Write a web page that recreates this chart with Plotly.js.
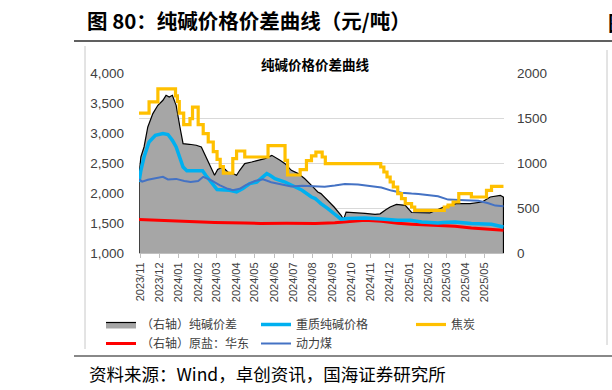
<!DOCTYPE html>
<html>
<head>
<meta charset="utf-8">
<script src="https://cdn.plot.ly/plotly-3.0.1.min.js"></script>
<style>html,body{margin:0;padding:0;background:#fff;}#chart{width:612px;height:390px;}</style>
</head>
<body>
<div id="chart"></div>
<script>
// 纯碱价差 (右轴)
const spreadDates = ['2023-10-30','2023-11-02','2023-11-07','2023-11-13','2023-11-21','2023-11-29','2023-12-07','2023-12-12','2023-12-17','2023-12-22','2023-12-28','2024-01-03','2024-01-08','2024-01-18','2024-01-29','2024-02-06','2024-02-14','2024-02-22','2024-02-27','2024-03-03','2024-03-11','2024-03-19','2024-03-27','2024-04-02','2024-04-07','2024-04-15','2024-04-26','2024-05-07','2024-05-17','2024-05-28','2024-06-02','2024-06-10','2024-06-18','2024-06-28','2024-07-09','2024-07-19','2024-07-30','2024-08-09','2024-08-14','2024-08-25','2024-09-04','2024-09-15','2024-09-19','2024-09-23','2024-10-07','2024-10-23','2024-11-08','2024-11-16','2024-11-25','2024-12-02','2024-12-12','2024-12-26','2025-01-05','2025-02-03','2025-02-24','2025-03-17','2025-04-08','2025-04-27','2025-05-10','2025-05-26','2025-05-31'];
const spreadValues = [863,1067,1178,1400,1549,1641,1697,1752,1733,1752,1641,1400,1215,1208,1197,1178,1067,938,863,927,955,900,882,863,919,993,1011,1030,1049,1085,1067,1030,993,919,882,827,752,678,660,585,511,419,371,455,450,440,430,435,480,511,540,530,450,445,507,549,549,567,622,641,620];

// 重质纯碱价格 (左轴)
const sodaDates = ['2023-10-30','2023-11-02','2023-11-07','2023-11-15','2023-11-25','2023-12-07','2023-12-15','2023-12-22','2023-12-28','2024-01-03','2024-01-08','2024-01-14','2024-02-08','2024-02-13','2024-02-20','2024-02-25','2024-03-02','2024-03-22','2024-04-02','2024-04-12','2024-04-23','2024-05-04','2024-05-14','2024-05-20','2024-05-25','2024-06-02','2024-06-18','2024-06-28','2024-07-15','2024-07-30','2024-08-05','2024-08-09','2024-08-14','2024-08-25','2024-09-04','2024-09-15','2024-09-26','2024-10-23','2024-11-18','2024-12-14','2025-01-03','2025-01-21','2025-02-16','2025-02-24','2025-03-15','2025-04-10','2025-05-12','2025-05-31'];
const sodaValues = [2183,2378,2600,2850,2962,2990,2975,2878,2767,2600,2433,2370,2370,2295,2200,2128,2057,2045,2017,2073,2157,2183,2260,2323,2295,2240,2183,2128,2045,1933,1907,1870,1823,1740,1657,1562,1573,1583,1567,1545,1545,1517,1500,1510,1517,1490,1478,1433];

// 焦炭 (左轴, 阶梯)
const cokeDates = ['2023-10-30','2023-11-15','2023-11-29','2023-12-27','2023-12-30','2024-01-02','2024-01-09','2024-01-19','2024-01-23','2024-02-01','2024-02-09','2024-02-17','2024-02-25','2024-03-02','2024-03-07','2024-03-12','2024-03-27','2024-04-02','2024-04-15','2024-05-22','2024-06-18','2024-06-22','2024-07-12','2024-07-22','2024-07-30','2024-08-06','2024-08-16','2024-08-21','2024-11-17','2024-11-22','2024-11-27','2024-12-02','2024-12-07','2024-12-14','2024-12-20','2024-12-26','2025-01-05','2025-01-10','2025-02-26','2025-03-04','2025-03-12','2025-03-21','2025-04-10','2025-05-04','2025-05-12','2025-05-31'];
const cokeValues = [3330,3520,3735,3620,3525,3330,3140,3240,3430,3140,2990,2850,2690,2560,2440,2330,2573,2700,2600,2790,2545,2300,2390,2540,2620,2680,2600,2490,2433,2350,2267,2183,2100,1990,1907,1823,1767,1712,1767,1800,1850,1990,1933,2045,2110,2110];

// 原盐：华东 (右轴)
const saltDates = ['2023-10-30','2023-12-17','2024-01-10','2024-02-27','2024-04-15','2024-05-10','2024-06-20','2024-08-05','2024-09-05','2024-09-26','2024-10-23','2024-11-18','2024-12-14','2025-01-05','2025-02-16','2025-03-15','2025-04-10','2025-05-07','2025-05-31'];
const saltValues = [372,357,347,339,333,328,330,328,337,348,363,353,330,320,308,297,277,261,252];

// 动力煤 (左轴)
const coalDates = ['2023-10-30','2023-11-04','2023-11-13','2023-11-25','2023-12-07','2023-12-15','2023-12-28','2024-01-10','2024-01-20','2024-02-01','2024-02-09','2024-02-22','2024-03-06','2024-03-19','2024-03-27','2024-04-07','2024-04-16','2024-05-01','2024-05-14','2024-05-27','2024-06-18','2024-06-28','2024-07-15','2024-07-30','2024-08-20','2024-09-05','2024-09-21','2024-10-12','2024-11-02','2024-11-18','2024-12-04','2024-12-20','2025-01-05','2025-01-16','2025-02-16','2025-03-04','2025-03-31','2025-04-21','2025-05-07','2025-05-18','2025-05-31'];
const coalValues = [2230,2190,2220,2240,2270,2225,2235,2200,2183,2200,2270,2210,2130,2070,2045,2070,2128,2200,2230,2180,2140,2110,2120,2110,2105,2125,2150,2140,2110,2090,2040,2005,1990,1985,1945,1890,1878,1870,1830,1790,1780];

const names = {
  spread: '（右轴）纯碱价差',
  soda: '重质纯碱价格',
  coke: '焦炭',
  salt: '（右轴）原盐：华东',
  coal: '动力煤'
};

// area outline closed down to the axis baseline at both ends (Excel-style border)
const areaX = [spreadDates[0]].concat(spreadDates, [spreadDates[spreadDates.length - 1]]);
const areaY = [0].concat(spreadValues, [0]);

const traces = [
  {x: areaX, y: areaY, name: names.spread, yaxis: 'y', type: 'scatter', mode: 'lines',
   fill: 'tozeroy', fillcolor: '#A6A6A6', line: {color: '#000000', width: 1.2}, legendrank: 1},
  {x: saltDates, y: saltValues, name: names.salt, yaxis: 'y', type: 'scatter', mode: 'lines',
   line: {color: '#FF0000', width: 3}, legendrank: 4},
  {x: sodaDates, y: sodaValues, name: names.soda, yaxis: 'y2', type: 'scatter', mode: 'lines',
   line: {color: '#00B0F0', width: 3.5}, legendrank: 2},
  {x: coalDates, y: coalValues, name: names.coal, yaxis: 'y2', type: 'scatter', mode: 'lines',
   line: {color: '#4472C4', width: 2}, legendrank: 5},
  {x: cokeDates, y: cokeValues, name: names.coke, yaxis: 'y2', type: 'scatter', mode: 'lines',
   line: {color: '#FFC000', width: 3.2, shape: 'hv'}, legendrank: 3}
];

// plot area: l=139, r=108, t=73, b=137  (365 x 180 px)
const L = 139, W = 365, T = 73, H = 180;
const px = v => (v - L) / W;
const py = v => (T + H - v) / H;

const tickFont = {family: 'Liberation Sans, Arial, sans-serif', size: 13.5, color: '#404040'};
const cjk = 'Noto Sans CJK SC, sans-serif';

const layout = {
  width: 612, height: 390,
  margin: {l: L, r: 612 - L - W, t: T, b: 390 - T - H, pad: 0},
  paper_bgcolor: '#ffffff', plot_bgcolor: '#ffffff',
  showlegend: true,
  title: {
    text: '图 80：纯碱价格价差曲线（元/吨）',
    font: {family: cjk, size: 20.5, color: '#000000', weight: 'bold'},
    xref: 'container', yref: 'container', x: 87 / 612, xanchor: 'left', y: 1 - 22 / 390, yanchor: 'middle'
  },
  xaxis: {
    type: 'date', range: ['2023-10-30', '2025-05-31 20:00'],
    tick0: '2023-11-01', dtick: 'M1', tickformat: '%Y/%m', tickangle: -90,
    tickfont: {family: 'Liberation Sans, Arial, sans-serif', size: 11, color: '#404040'},
    ticks: 'outside', ticklen: 4, tickcolor: '#BFBFBF',
    showline: true, linecolor: '#BFBFBF', linewidth: 1, showgrid: false, zeroline: false,
    fixedrange: true
  },
  yaxis: {
    side: 'right', range: [0, 2000], dtick: 500, tick0: 0,
    showgrid: true, gridcolor: '#D9D9D9', gridwidth: 1, zeroline: false, showline: false,
    ticks: '', tickfont: tickFont, ticklabelstandoff: 12, fixedrange: true
  },
  yaxis2: {
    overlaying: 'y', side: 'left', range: [1000, 4000], dtick: 500, tick0: 1000,
    tickformat: ',d', showgrid: false, zeroline: false, showline: false,
    ticks: '', tickfont: tickFont, ticklabelstandoff: 14, fixedrange: true
  },
  legend: {
    orientation: 'h', x: px(101), xanchor: 'left', y: py(310), yanchor: 'top',
    entrywidth: 110, traceorder: 'normal', itemwidth: 30, tracegroupgap: 0,
    font: {family: cjk, size: 12, color: '#404040'}, bgcolor: 'rgba(0,0,0,0)'
  },
  annotations: [
    {text: '纯碱价格价差曲线', xref: 'paper', yref: 'paper', x: px(315), y: py(64),
     xanchor: 'center', yanchor: 'middle', showarrow: false,
     font: {family: cjk, size: 13.5, color: '#000000', weight: 'bold'}},
    {text: '资料来源：Wind，卓创资讯，国海证券研究所', xref: 'paper', yref: 'paper', x: px(87), y: py(373),
     xanchor: 'left', yanchor: 'middle', showarrow: false,
     font: {family: cjk, size: 17.5, color: '#000000'}},
    {text: '<b>图</b>', xref: 'paper', yref: 'paper', x: px(606), y: py(22),
     xanchor: 'left', yanchor: 'middle', showarrow: false,
     font: {family: cjk, size: 20.5, color: '#000000'}}
  ],
  shapes: [
    {type: 'line', xref: 'paper', yref: 'paper', x0: px(74), x1: px(612), y0: py(41), y1: py(41),
     line: {color: '#606060', width: 2}},
    {type: 'line', xref: 'paper', yref: 'paper', x0: px(74), x1: px(612), y0: py(356), y1: py(356),
     line: {color: '#606060', width: 1.5}},
    {type: 'line', xref: 'paper', yref: 'paper', x0: px(85), x1: px(85), y0: py(46), y1: py(349),
     line: {color: '#C8C8C8', width: 1}},
    {type: 'line', xref: 'paper', yref: 'paper', x0: px(607), x1: px(607), y0: py(50), y1: py(345),
     line: {color: '#C8C8C8', width: 1}}
  ]
};

Plotly.newPlot('chart', traces, layout, {displayModeBar: false, staticPlot: true});
</script>
</body>
</html>
